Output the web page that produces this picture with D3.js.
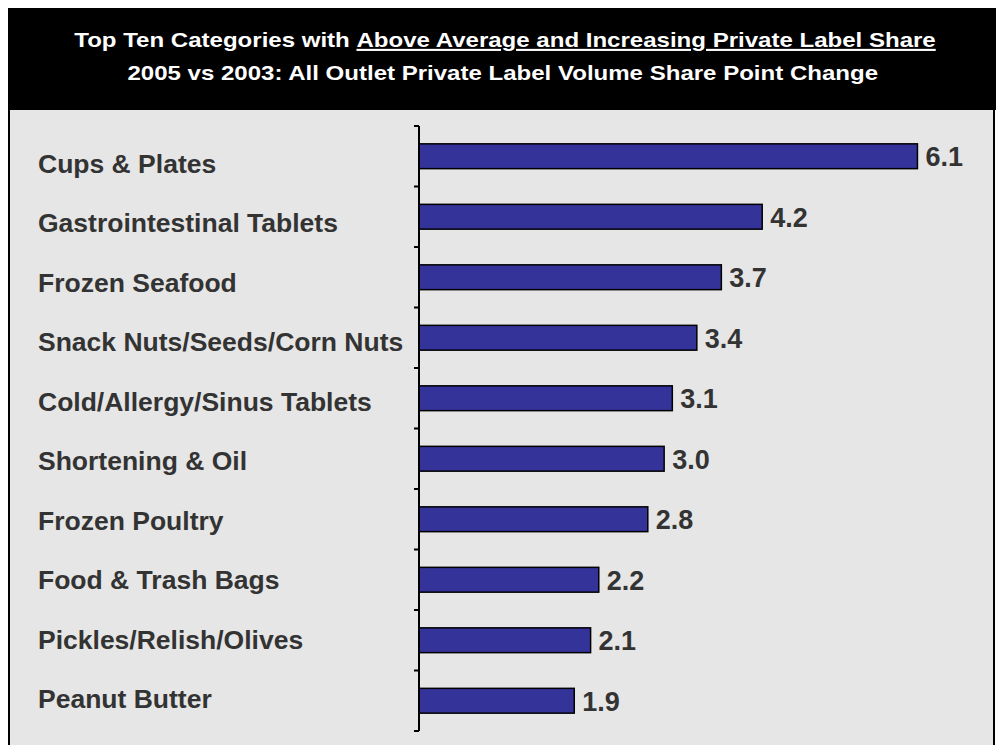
<!DOCTYPE html>
<html>
<head>
<script src="https://cdn.jsdelivr.net/npm/d3@7"></script>
<style type="text/css">
  body{
    margin: 0px;
    background: white;
    font-family: 'Liberation Sans', Arial, sans-serif;
  }
</style>
</head>
<body>

<svg id="chart" width="998" height="745"></svg>

<script>

var categories = ["Cups & Plates", "Gastrointestinal Tablets", "Frozen Seafood",
  "Snack Nuts/Seeds/Corn Nuts", "Cold/Allergy/Sinus Tablets", "Shortening & Oil",
  "Frozen Poultry", "Food & Trash Bags", "Pickles/Relish/Olives", "Peanut Butter"];
var values = [6.1, 4.2, 3.7, 3.4, 3.1, 3.0, 2.8, 2.2, 2.1, 1.9];
var titleLines = ["Top Ten Categories with ", "Above Average and Increasing Private Label Share",
  "2005 vs 2003: All Outlet Private Label Volume Share Point Change"];

var svg = d3.select("#chart");

// frame + header
svg.append("rect")
  .attr("x", 9).attr("y", 9).attr("width", 985).attr("height", 745)
  .attr("fill", "#e6e6e6")
  .attr("stroke", "black").attr("stroke-width", 2);

svg.append("rect")
  .attr("x", 8).attr("y", 8).attr("width", 988).attr("height", 102)
  .attr("fill", "black");

// title is a bit wider than the font, stretch it
var titleG = svg.append("g")
  .attr("transform", "translate(505,0) scale(1.145,1)");

var t1 = titleG.append("text")
  .attr("x", 0).attr("y", 47)
  .attr("text-anchor", "middle")
  .attr("fill", "white")
  .style("font-size", "21px").style("font-weight", "bold");
t1.append("tspan").text(titleLines[0]);
t1.append("tspan").attr("text-decoration", "underline").text(titleLines[1]);

titleG.append("text")
  .attr("x", -2).attr("y", 80)
  .attr("text-anchor", "middle")
  .attr("fill", "white")
  .style("font-size", "21px").style("font-weight", "bold")
  .text(titleLines[2]);

// scales
var x = d3.scaleLinear().domain([0, 7]).range([419, 991]);

var y = d3.scaleBand()
  .domain(categories)
  .range([126, 731])
  .paddingInner(0.59)
  .paddingOuter(0.295);

var yLabel = d3.scalePoint()
  .domain(categories)
  .range([173, 708]);

// bars
svg.selectAll(".bar")
  .data(values)
  .enter()
  .append("rect")
  .attr("class", "bar")
  .attr("x", x(0))
  .attr("y", function(d,i) { return y(categories[i]); })
  .attr("width", function(d) { return x(d) - x(0); })
  .attr("height", y.bandwidth())
  .attr("fill", "#333399")
  .attr("stroke", "black")
  .attr("stroke-width", 1.5);

// value labels
svg.selectAll(".valText")
  .data(values)
  .enter()
  .append("text")
  .attr("class", "valText")
  .attr("x", function(d) { return x(d) + 8; })
  .attr("y", function(d,i) { return y(categories[i]) + y.bandwidth()/2 + 10; })
  .attr("fill", "#333333")
  .style("font-size", "27px").style("font-weight", "bold")
  .text(function(d) { return d.toFixed(1); });

// category labels
svg.selectAll(".catText")
  .data(categories)
  .enter()
  .append("text")
  .attr("class", "catText")
  .attr("x", 38)
  .attr("y", function(d) { return yLabel(d); })
  .attr("fill", "#333333")
  .style("font-size", "26.5px").style("font-weight", "bold")
  .text(function(d) { return d; });

// axis with ticks at band edges
var edges = categories.map(function(d) { return y(d) - y.step()*0.295; });
edges.push(731);

svg.append("line")
  .attr("x1", 419).attr("x2", 419)
  .attr("y1", 126).attr("y2", 731)
  .attr("stroke", "black").attr("stroke-width", 2);

svg.selectAll(".tick")
  .data(edges)
  .enter()
  .append("line")
  .attr("class", "tick")
  .attr("x1", 414).attr("x2", 419)
  .attr("y1", function(d) { return d; })
  .attr("y2", function(d) { return d; })
  .attr("stroke", "black").attr("stroke-width", 2);

</script>

</body>
</html>
